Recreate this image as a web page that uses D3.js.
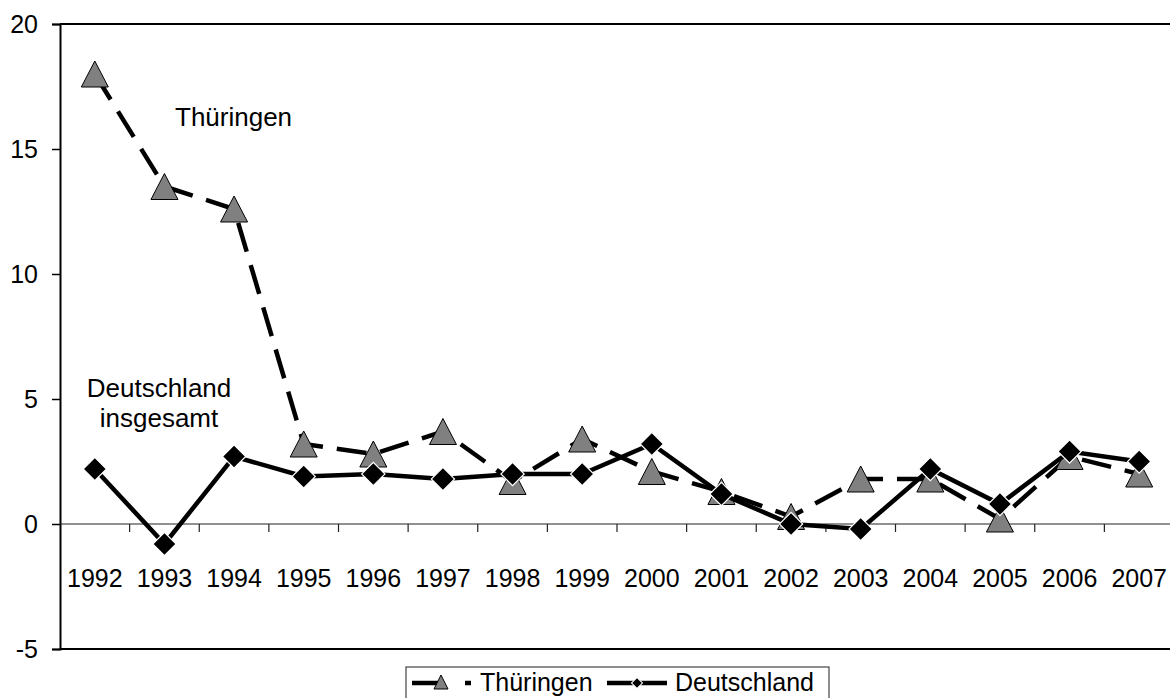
<!DOCTYPE html>
<html>
<head>
<meta charset="utf-8">
<script src="https://cdn.jsdelivr.net/npm/d3@7"></script>
<style>
  body { margin: 0; background: #fff; }
  text { font-family: "Liberation Sans", Arial, sans-serif; fill: #000; }
</style>
</head>
<body>
<div id="svg-chart"></div>
<script>
// data
var years = ["1992", "1993", "1994", "1995", "1996", "1997", "1998", "1999",
             "2000", "2001", "2002", "2003", "2004", "2005", "2006", "2007"];
var thueringen = [18.0, 13.5, 12.6, 3.2, 2.8, 3.7, 1.7, 3.4, 2.1, 1.3, 0.3, 1.8, 1.8, 0.2, 2.7, 2.0];
var deutschland = [2.2, -0.8, 2.7, 1.9, 2.0, 1.8, 2.0, 2.0, 3.2, 1.2, 0.0, -0.2, 2.2, 0.8, 2.9, 2.5];
var yTicks = [-5, 0, 5, 10, 15, 20];

var svgWidth = 1170, svgHeight = 698;
var chartMargin = { top: 24, left: 60 };
var chartWidth = 1114;   // runs past the right edge of the window, as in the original
var chartHeight = 625;

var svg = d3.select("#svg-chart")
    .append("svg")
    .attr("width", svgWidth)
    .attr("height", svgHeight);

var chartGroup = svg.append("g")
    .attr("transform", `translate(${chartMargin.left}, ${chartMargin.top})`);

var xScale = d3.scaleBand()
    .domain(years)
    .range([0, chartWidth]);

var yScale = d3.scaleLinear()
    .domain([-5, 20])
    .range([chartHeight, 0]);

var xc = function(d, i) { return xScale(years[i]) + xScale.bandwidth() / 2; };

// excel style marker: triangle as wide as it is tall
function trianglePath(w, h) {
    return `M0,${-h / 2}L${w / 2},${h / 2}L${-w / 2},${h / 2}Z`;
}

// top and bottom border of the plot area
chartGroup.append("line")
    .attr("x1", 0).attr("x2", chartWidth)
    .attr("y1", yScale(20)).attr("y2", yScale(20))
    .attr("stroke", "#000").attr("stroke-width", 2);
chartGroup.append("line")
    .attr("x1", 0).attr("x2", chartWidth)
    .attr("y1", yScale(-5)).attr("y2", yScale(-5))
    .attr("stroke", "#000").attr("stroke-width", 2);

// y axis
var yAxis = d3.axisLeft(yScale)
    .tickValues(yTicks)
    .tickFormat(function(d) { return String(d); })
    .tickSize(8)
    .tickPadding(14);
var yAxisG = chartGroup.append("g").call(yAxis);
yAxisG.select(".domain").attr("stroke", "#000").attr("stroke-width", 2);
yAxisG.selectAll(".tick line").attr("stroke", "#000").attr("stroke-width", 1.5);
yAxisG.selectAll("text")
    .style("font-size", "25px")
    .style("font-family", "'Liberation Sans', Arial, sans-serif");

// x axis on the zero line, ticks between the categories
var boundaries = d3.range(years.length + 1).map(function(i) { return i * xScale.step(); });
var zeroG = chartGroup.append("g").attr("transform", `translate(0, ${yScale(0)})`);
zeroG.append("line")
    .attr("x1", 0).attr("x2", chartWidth)
    .attr("stroke", "#222").attr("stroke-width", 1.2);
zeroG.selectAll(".xtick")
    .data(boundaries.slice(1))
    .enter()
    .append("line")
    .attr("class", "xtick")
    .attr("x1", function(d) { return d; })
    .attr("x2", function(d) { return d; })
    .attr("y1", 0).attr("y2", 8)
    .attr("stroke", "#222").attr("stroke-width", 1.2);
zeroG.selectAll(".xlabel")
    .data(years)
    .enter()
    .append("text")
    .attr("class", "xlabel")
    .attr("x", function(d) { return xScale(d) + xScale.bandwidth() / 2; })
    .attr("y", 63)
    .attr("text-anchor", "middle")
    .style("font-size", "25px")
    .text(function(d) { return d; });

// lines
var line = d3.line()
    .x(xc)
    .y(function(d) { return yScale(d); });

chartGroup.append("path")
    .datum(thueringen)
    .attr("d", line)
    .attr("fill", "none")
    .attr("stroke", "#000")
    .attr("stroke-width", 4.5)
    .attr("stroke-dasharray", "30,14");

chartGroup.selectAll(".tri")
    .data(thueringen)
    .enter()
    .append("path")
    .attr("class", "tri")
    .attr("d", trianglePath(27, 26))
    .attr("transform", function(d, i) { return `translate(${xc(d, i)}, ${yScale(d)})`; })
    .attr("fill", "#808080")
    .attr("stroke", "#000")
    .attr("stroke-width", 1);

chartGroup.append("path")
    .datum(deutschland)
    .attr("d", line)
    .attr("fill", "none")
    .attr("stroke", "#000")
    .attr("stroke-width", 4.5);

var diamond = d3.symbol().type(d3.symbolSquare).size(270);

chartGroup.selectAll(".dia")
    .data(deutschland)
    .enter()
    .append("path")
    .attr("class", "dia")
    .attr("d", diamond)
    .attr("transform", function(d, i) { return `translate(${xc(d, i)}, ${yScale(d)}) rotate(45)`; })
    .attr("fill", "#000")
    .attr("stroke", "#fff")
    .attr("stroke-width", 1.2);

// annotations
svg.append("text")
    .attr("x", 175).attr("y", 126)
    .style("font-size", "26px")
    .text("Thüringen");
svg.append("text")
    .attr("x", 159).attr("y", 397)
    .attr("text-anchor", "middle")
    .style("font-size", "26px")
    .text("Deutschland");
svg.append("text")
    .attr("x", 159).attr("y", 427)
    .attr("text-anchor", "middle")
    .style("font-size", "26px")
    .text("insgesamt");

// legend
var legend = svg.append("g").attr("transform", "translate(406, 667)");
legend.append("rect")
    .attr("x", 0).attr("y", 0)
    .attr("width", 423).attr("height", 50)
    .attr("fill", "#fff")
    .attr("stroke", "#444")
    .attr("stroke-width", 1.2);

var ly = 16;
legend.append("line")
    .attr("x1", 6).attr("x2", 36).attr("y1", ly).attr("y2", ly)
    .attr("stroke", "#000").attr("stroke-width", 4.5);
legend.append("line")
    .attr("x1", 59).attr("x2", 65).attr("y1", ly).attr("y2", ly)
    .attr("stroke", "#000").attr("stroke-width", 4.5);
legend.append("path")
    .attr("d", trianglePath(14, 14))
    .attr("transform", `translate(35, ${ly - 1})`)
    .attr("fill", "#808080").attr("stroke", "#000").attr("stroke-width", 1);
legend.append("text")
    .attr("x", 74).attr("y", ly + 8)
    .style("font-size", "25px")
    .text("Thüringen");

legend.append("line")
    .attr("x1", 201).attr("x2", 261).attr("y1", ly).attr("y2", ly)
    .attr("stroke", "#000").attr("stroke-width", 4.5);
legend.append("path")
    .attr("d", d3.symbol().type(d3.symbolSquare).size(60))
    .attr("transform", `translate(231, ${ly}) rotate(45)`)
    .attr("fill", "#000").attr("stroke", "#fff").attr("stroke-width", 1);
legend.append("text")
    .attr("x", 269).attr("y", ly + 8)
    .style("font-size", "25px")
    .text("Deutschland");
</script>
</body>
</html>
